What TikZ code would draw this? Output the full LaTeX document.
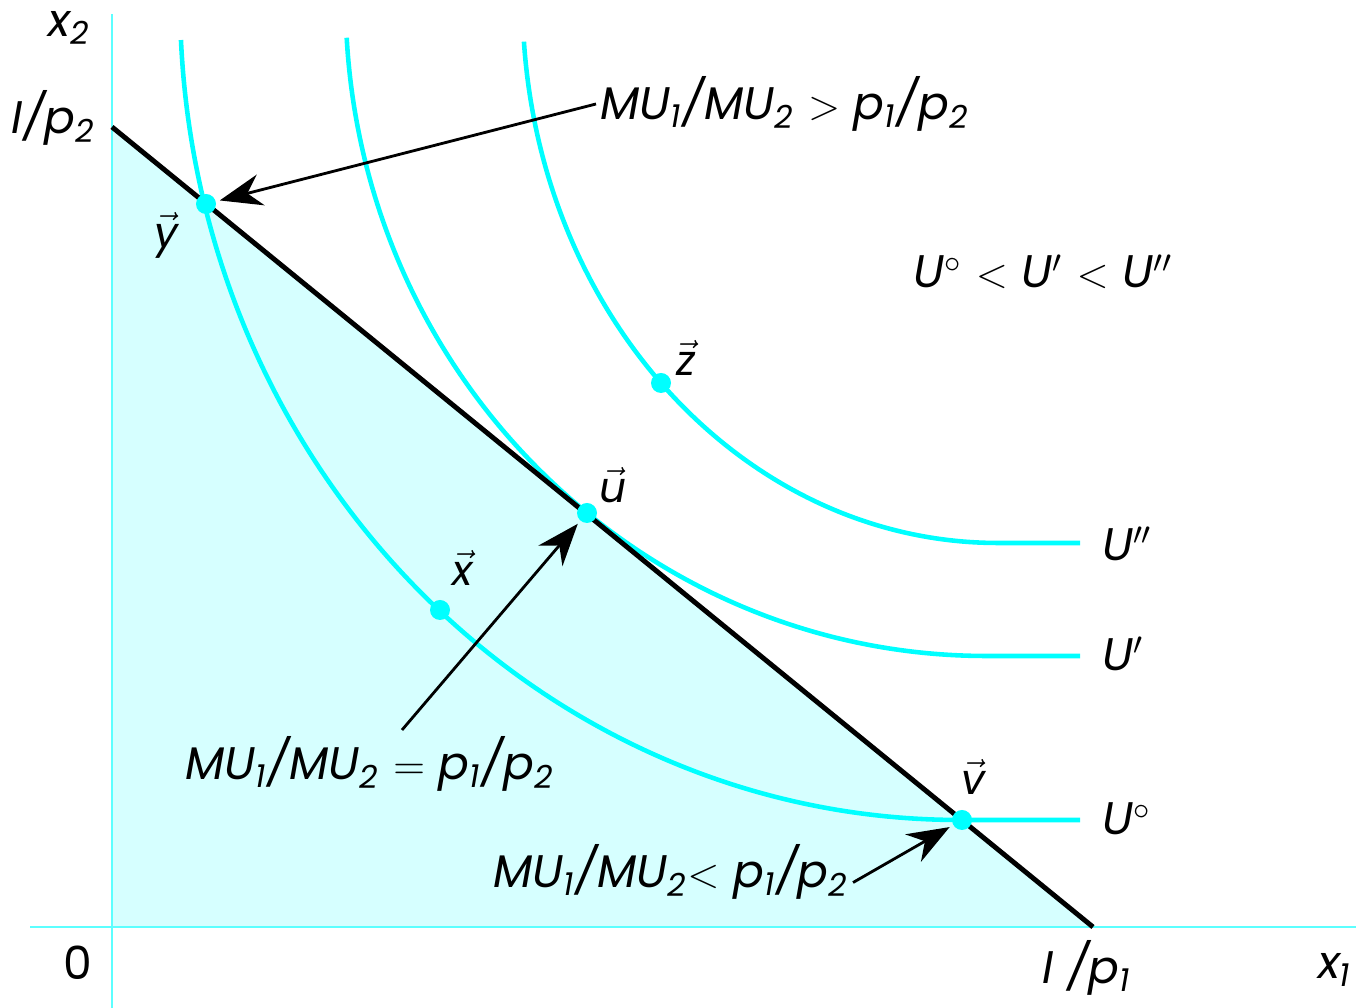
\documentclass[tikz,border=0pt]{standalone}
\usepackage{amsmath}
\usepackage{fontspec}
\setmainfont{Poppins}
\usetikzlibrary{arrows.meta,calc,positioning}

\definecolor{indiff}{HTML}{00FFFF}
\definecolor{axiscol}{HTML}{5CFFFF}
\definecolor{budgetfill}{HTML}{D6FFFF}

\newcommand{\sub}[1]{\textsubscript{#1}}

\tikzset{
  curve/.style={indiff,line width=1.3pt},
  bundle/.style={circle,fill=indiff,inner sep=0pt,minimum size=0.2cm},
  lbl/.style={font=\fontsize{13}{15}\selectfont\itshape,inner sep=1pt},
  veclbl/.style={font=\fontsize{12}{14}\selectfont,inner sep=1pt},
  pointer/.style={->,line width=0.8pt,shorten >=1pt}
}

\begin{document}
\begin{tikzpicture}[>={Stealth[length=12pt,width=9pt]}]
    \useasboundingbox (0,0) rectangle (13.56,10.08);
    % --- budget set ---
    \fill[budgetfill] (1.12,8.81) -- (1.12,0.81) -- (10.93,0.81) -- cycle;
    \draw[axiscol,line width=0.7pt] (1.12,0) -- (1.12,9.94);
    \draw[axiscol,line width=0.7pt] (0.30,0.81) -- (13.56,0.81);
    % --- indifference curves ---
    \coordinate (c0) at (9.60,10.08);
    \coordinate (c1) at (9.866,10.08);
    \coordinate (c2) at (9.98,10.08);
    \draw[curve] (c0) ++(182.8:7.80 and 8.20)
      arc[start angle=182.8,end angle=270,x radius=7.80,y radius=8.20] -- (10.80,1.88);
    \draw[curve] (c1) ++(183.3:6.41 and 6.56)
      arc[start angle=183.3,end angle=270,x radius=6.41,y radius=6.56] -- (10.80,3.52);
    \draw[curve] (c2) ++(184.4:4.755 and 5.43)
      arc[start angle=184.4,end angle=270,x radius=4.755,y radius=5.43] -- (10.80,4.65);
    % --- budget line ---
    \draw[line width=1.4pt] (1.12,8.81) -- (10.93,0.81);
    % --- bundles ---
    \node[bundle] (y) at (2.06,8.04) {};
    \node[bundle] (x) at (4.40,3.98) {};
    \node[bundle] (u) at (5.87,4.95) {};
    \node[bundle] (z) at (6.61,6.25) {};
    \node[bundle] (v) at (9.62,1.88) {};
    \node[veclbl] at (1.66,7.73) {$\vec{\textit{y}}$};
    \node[veclbl] at (4.63,4.40) {$\vec{\textit{x}}$};
    \node[veclbl] at (6.13,5.23) {$\vec{\textit{u}}$};
    \node[veclbl] at (6.86,6.50) {$\vec{\textit{z}}$};
    \node[veclbl] at (9.73,2.31) {$\vec{\textit{v}}$};
    % --- axis labels ---
    \node[lbl] (xtwo) at (0.70,9.80) {x\sub{2}};
    \node[lbl] (ymax) at (0.54,8.90) {I/p\sub{2}};
    \node[lbl,font=\fontsize{13}{15}\selectfont] (orig) at (0.78,0.45) {0};
    \node[lbl] (xmax) at (10.87,0.40) {I /p\sub{1}};
    \node[lbl] (xone) at (13.35,0.38) {x\sub{1}};
    % --- curve labels ---
    \node[lbl,anchor=west] (utwo) at (10.98,4.64) {U$''$};
    \node[lbl,anchor=west] (uone) at (10.98,3.54) {U$'$};
    \node[lbl,anchor=west] (uzero) at (10.98,1.89) {U$^\circ$};
    \node[lbl] (order) at (10.43,7.36) {U$^\circ$ $<$ U$'$ $<$ U$''$};
    % --- conditions ---
    \node[lbl,anchor=west] (gt) at (5.96,9.04)
      {MU\sub{1}/MU\sub{2} $>$ p\sub{1}/p\sub{2}};
    \node[lbl] (eq) at (3.70,2.44)
      {MU\sub{1}/MU\sub{2} $=$ p\sub{1}/p\sub{2}};
    \node[lbl] (lt) at (6.71,1.36)
      {MU\sub{1}/MU\sub{2}$<$ p\sub{1}/p\sub{2}};
    \coordinate (eqtail) at (4.02,2.78);
    \draw[pointer] (gt.west) -- (y);
    \draw[pointer] (eqtail) -- (u);
    \draw[pointer] ([yshift=-3pt]lt.east) -- (v);
\end{tikzpicture}
\end{document}
